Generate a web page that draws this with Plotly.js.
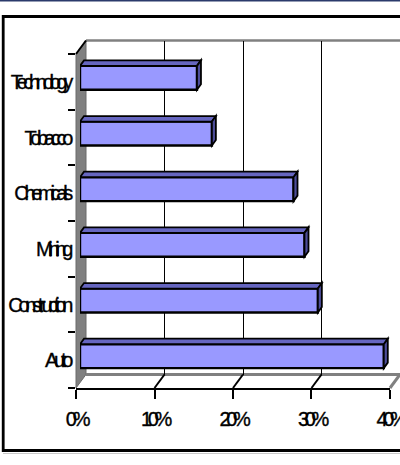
<!DOCTYPE html>
<html>
<head>
<meta charset="utf-8">
<script src="https://cdn.plot.ly/plotly-3.0.1.min.js"></script>
<style>
  html, body { margin: 0; padding: 0; background: #fff; }
  #chart { width: 400px; height: 465px; }
  .xtick text, .ytick text { letter-spacing: -4.3px; stroke: #000; stroke-width: 0.35px; }
</style>
</head>
<body>
<div id="chart"></div>
<script>
// ---- data ----
const categories = ['Auto', 'Construction', 'Mining', 'Chemicals', 'Tobacco', 'Technology'];
const values = [0.387, 0.303, 0.286, 0.272, 0.168, 0.149];
const tickVals = [0, 0.1, 0.2, 0.3, 0.4];
const tickText = ['0%', '10%', '20%', '30%', '40%'];
const gridVals = [0.1, 0.2, 0.3, 0.4];

// ---- geometry / styling ----
const W = 400, H = 465;
const px = x => x / W;
const py = y => 1 - y / H;
const FX0 = 76, FX1 = 390, FYT = 54, FYB = 388;   // front plane
const DX = 10, DY = -13.5;                         // wall depth offset
const BX = 4, BY = -4;                             // bar plane offset
const xMax = 0.4;
const xRangeMax = 0.40001;
const pxPerUnit = (FX1 - FX0) / xMax;
const barW = 0.43;
const bdx = 4 / pxPerUnit;                  // bar depth (x, data units)
const bdy = 5.5 / ((FYB - FYT) / 6);        // bar depth (y, category units)

const font = { family: 'Liberation Sans, Arial, sans-serif', size: 20, color: '#000' };

const shapes = [];
// top navy line
shapes.push({ type: 'line', xref: 'paper', yref: 'paper', x0: 0, x1: 1, y0: py(0.7), y1: py(0.7), line: { color: '#2b3a6b', width: 1.5 } });
// outer frame
shapes.push({ type: 'rect', xref: 'paper', yref: 'paper', x0: px(3.2), x1: px(412), y0: py(450.5), y1: py(16.5), line: { color: '#000', width: 2.8 }, layer: 'below' });
shapes.push({ type: 'line', xref: 'paper', yref: 'paper', x0: px(3), x1: 1, y0: py(453.5), y1: py(453.5), line: { color: '#c8c8c8', width: 1 }, layer: 'below' });
// left wall
shapes.push({ type: 'path', xref: 'paper', yref: 'paper', layer: 'below',
  path: `M${px(FX0)},${py(FYB)} L${px(FX0)},${py(FYT)} L${px(FX0+DX)},${py(FYT+DY)} L${px(FX0+DX)},${py(FYB+DY)} Z`,
  fillcolor: '#808080', line: { color: '#6a6a6a', width: 1 } });
// back wall top edge
shapes.push({ type: 'line', xref: 'paper', yref: 'paper', layer: 'below', x0: px(FX0+DX), x1: px(FX1+DX), y0: py(FYT+DY), y1: py(FYT+DY), line: { color: '#808080', width: 2.5 } });
// floor back edge and right edge
shapes.push({ type: 'line', xref: 'paper', yref: 'paper', layer: 'below', x0: px(FX0+DX), x1: px(FX1+DX), y0: py(FYB+DY), y1: py(FYB+DY), line: { color: '#808080', width: 3 } });
shapes.push({ type: 'line', xref: 'paper', yref: 'paper', layer: 'below', x0: px(FX1), x1: px(FX1+DX), y0: py(FYB), y1: py(FYB+DY), line: { color: '#808080', width: 3 } });
// floor diagonals at grid values
[0.1, 0.2, 0.3].forEach(v => {
  const xf = FX0 + v * pxPerUnit;
  shapes.push({ type: 'line', xref: 'paper', yref: 'paper', x0: px(xf), x1: px(xf+DX), y0: py(FYB), y1: py(FYB+DY), line: { color: '#000', width: 2 } });
});
// top-left black edge
shapes.push({ type: 'line', xref: 'paper', yref: 'paper', x0: px(FX0), x1: px(FX0+DX), y0: py(FYT), y1: py(FYT+DY), line: { color: '#000', width: 2 } });

// bar top & side faces from data
categories.forEach((c, i) => {
  const v = values[i];
  const yt = i + barW / 2, yb = i - barW / 2;
  shapes.push({ type: 'path', xref: 'x3', yref: 'y3', layer: 'above',
    path: `M0,${yt} L${v},${yt} L${v+bdx},${yt+bdy} L${bdx},${yt+bdy} Z`,
    fillcolor: '#6666c0', line: { color: '#000', width: 1.8 } });
  shapes.push({ type: 'path', xref: 'x3', yref: 'y3', layer: 'above',
    path: `M${v},${yb} L${v},${yt} L${v+bdx},${yt+bdy} L${v+bdx},${yb+bdy} Z`,
    fillcolor: '#4d4d99', line: { color: '#000', width: 1.8 } });
});

const traces = [
  { type: 'bar', orientation: 'h', y: categories, x: values, xaxis: 'x3', yaxis: 'y3',
    width: barW, marker: { color: '#9999ff', line: { color: '#000', width: 2.4 } },
    hoverinfo: 'skip', showlegend: false },
  { type: 'scatter', mode: 'none', x: [0], y: [categories[0]], xaxis: 'x', yaxis: 'y', showlegend: false, hoverinfo: 'skip' },
  { type: 'scatter', mode: 'none', x: [0], y: [0], xaxis: 'x2', yaxis: 'y2', showlegend: false, hoverinfo: 'skip' }
];

const layout = {
  width: W, height: H,
  margin: { l: 0, r: 0, t: 0, b: 0 },
  paper_bgcolor: '#fff', plot_bgcolor: 'rgba(0,0,0,0)',
  showlegend: false,
  font: font,
  xaxis: { domain: [px(FX0), px(FX1)], anchor: 'y', range: [0, xRangeMax], tickvals: tickVals, ticktext: tickText,
    showgrid: false, zeroline: false, showline: true, linecolor: '#000', linewidth: 2,
    ticks: 'outside', ticklen: 9, tickwidth: 2, tickcolor: '#000', tickfont: font, ticklabelstandoff: 3,
    ticklabeloverflow: 'allow' },
  yaxis: { domain: [py(FYB), py(FYT)], anchor: 'x', type: 'category', categoryorder: 'array', categoryarray: categories,
    range: [-0.5, 5.5], showgrid: false, zeroline: false, showline: false, tickson: 'boundaries',
    ticks: 'outside', ticklen: 7, tickwidth: 2, tickcolor: '#000', tickfont: font, ticklabelstandoff: 6,
    ticklabeloverflow: 'allow' },
  xaxis2: { domain: [px(FX0+DX), px(FX1+DX)], anchor: 'y2', range: [0, xRangeMax], tickvals: gridVals,
    showticklabels: false, ticks: '', showgrid: true, gridcolor: '#000', gridwidth: 1, zeroline: false, showline: false },
  yaxis2: { domain: [py(FYB+DY), py(FYT+DY)], anchor: 'x2', range: [0, 1], showgrid: false, showticklabels: false, ticks: '', zeroline: false, showline: false },
  xaxis3: { domain: [px(FX0+BX), px(FX1+BX)], anchor: 'y3', range: [0, xRangeMax], visible: false },
  yaxis3: { domain: [py(FYB+BY), py(FYT+BY)], anchor: 'x3', type: 'category', categoryorder: 'array', categoryarray: categories,
    range: [-0.5, 5.5], visible: false },
  shapes: shapes
};

Plotly.newPlot('chart', traces, layout, { staticPlot: true, displayModeBar: false });
</script>
</body>
</html>
